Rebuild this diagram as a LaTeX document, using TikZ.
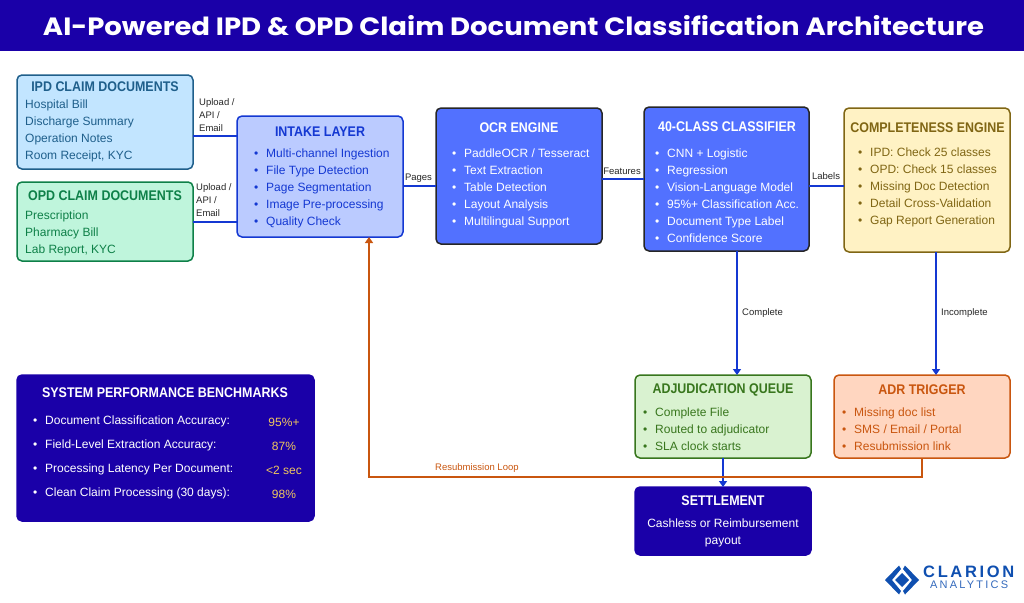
\documentclass[tikz,border=0pt]{standalone}
\usepackage{xcolor}
\usepackage{fontspec}
\setmainfont{Liberation Sans}
\newfontfamily\headfont[FakeStretch=1.1]{Poppins}
\newfontfamily\boxfont[FakeStretch=0.89]{Liberation Sans}
\newfontfamily\logofont[LetterSpace=16]{Liberation Sans}
\newfontfamily\logosubfont[LetterSpace=20]{Liberation Sans}
\usepackage{tikz}
\usetikzlibrary{calc, arrows.meta}

\definecolor{navy}{HTML}{1A00A8}
\definecolor{wireblue}{HTML}{1438D2}
\definecolor{loopred}{HTML}{C9560F}
\definecolor{ipdfill}{HTML}{C2E5FF}
\definecolor{ipdline}{HTML}{1F5F8B}
\definecolor{opdfill}{HTML}{BFF5DC}
\definecolor{opdline}{HTML}{0E8048}
\definecolor{intakefill}{HTML}{BBCBFF}
\definecolor{ocrfill}{HTML}{5271FF}
\definecolor{compfill}{HTML}{FFF2C4}
\definecolor{compline}{HTML}{806614}
\definecolor{adjfill}{HTML}{D9F2D0}
\definecolor{adjline}{HTML}{38761D}
\definecolor{adrfill}{HTML}{FFD6C0}
\definecolor{gold}{HTML}{F0C75E}
\definecolor{logoblue}{HTML}{0F4FB0}

\newcommand{\itm}[2][12pt]{\makebox[#1][l]{\textbullet}#2}

\tikzset{
    box/.style={draw, rounded corners=5pt, line width=1.5pt, inner sep=0pt, outer sep=0pt, anchor=north west},
    head/.style={font=\boxfont\fontsize{14}{16}\selectfont\bfseries, inner sep=0pt},
    body/.style={font=\fontsize{12}{17}\selectfont, align=left, anchor=west, inner sep=0pt},
    tag/.style={font=\fontsize{9.5}{13}\selectfont, align=left, inner sep=0pt, text=black!85},
    wire/.style={wireblue, line width=1.8pt},
    flow/.style={wire, -{Triangle[length=6pt, width=8pt]}},
    resub/.style={loopred, line width=1.6pt},
}

\begin{document}
\begin{tikzpicture}[x=1pt, y=-1pt]
    \useasboundingbox (0, 0) rectangle (1024, 602);

    % title band
    \fill[navy] (0, 0) rectangle (1024, 51);
    \node[text=white, inner sep=0pt, font=\headfont\fontsize{25}{28}\selectfont\bfseries] at (513.5, 26) (title) {AI-Powered IPD \& OPD Claim Document Classification Architecture};

    % document sources
    \node[box, fill=ipdfill, draw=ipdline, minimum width=176pt, minimum height=94pt] at (17, 75) (ipd) {};
    \node[head, text=ipdline] at (105, 87) (ipdhead) {IPD CLAIM DOCUMENTS};
    \node[body, text=ipdline] at (25, 130.5) (ipdlist) {Hospital Bill\\Discharge Summary\\Operation Notes\\Room Receipt, KYC};

    \node[box, fill=opdfill, draw=opdline, minimum width=176pt, minimum height=79pt] at (17, 182) (opd) {};
    \node[head, text=opdline] at (105, 196) (opdhead) {OPD CLAIM DOCUMENTS};
    \node[body, text=opdline] at (25, 233.5) (opdlist) {Prescription\\Pharmacy Bill\\Lab Report, KYC};

    % pipeline
    \node[box, fill=intakefill, draw=wireblue, minimum width=166pt, minimum height=121pt] at (237, 116) (intake) {};
    \node[head, text=wireblue] at (320, 132) (intakehead) {INTAKE LAYER};
    \node[body, text=wireblue] at (254, 188.5) (intakelist) {\itm{Multi-channel Ingestion}\\\itm{File Type Detection}\\\itm{Page Segmentation}\\\itm{Image Pre-processing}\\\itm{Quality Check}};

    \node[box, fill=ocrfill, draw=black!85, minimum width=166pt, minimum height=136pt] at (436, 108) (ocr) {};
    \node[head, text=white] at (519, 128) (ocrhead) {OCR ENGINE};
    \node[body, text=white] at (452, 188.5) (ocrlist) {\itm{PaddleOCR / Tesseract}\\\itm{Text Extraction}\\\itm{Table Detection}\\\itm{Layout Analysis}\\\itm{Multilingual Support}};

    \node[box, fill=ocrfill, draw=black!85, minimum width=165pt, minimum height=144pt] at (644, 107) (classifier) {};
    \node[head, text=white] at (727, 127) (classifierhead) {40-CLASS CLASSIFIER};
    \node[body, text=white] at (655, 196) (classifierlist) {\itm{CNN + Logistic}\\\itm{}Regression\\\itm{Vision-Language Model}\\\itm{95\%+ Classification Acc.}\\\itm{Document Type Label}\\\itm{Confidence Score}};

    \node[box, fill=compfill, draw=compline, minimum width=166pt, minimum height=144pt] at (844, 108) (complete) {};
    \node[head, text=compline] at (927.5, 128) (completehead) {COMPLETENESS ENGINE};
    \node[body, text=compline] at (858, 187.5) (completelist) {\itm{IPD: Check 25 classes}\\\itm{OPD: Check 15 classes}\\\itm{Missing Doc Detection}\\\itm{Detail Cross-Validation}\\\itm{Gap Report Generation}};

    % outcomes
    \node[box, fill=adjfill, draw=adjline, minimum width=176pt, minimum height=83pt] at (635, 375) (adj) {};
    \node[head, text=adjline] at (723, 390) (adjhead) {ADJUDICATION QUEUE};
    \node[body, text=adjline] at (643, 429.5) (adjlist) {\itm{Complete File}\\\itm{Routed to adjudicator}\\\itm{SLA clock starts}};

    \node[box, fill=adrfill, draw=loopred, minimum width=176pt, minimum height=83pt] at (834, 375) (adr) {};
    \node[head, text=loopred] at (922, 390) (adrhead) {ADR TRIGGER};
    \node[body, text=loopred] at (842, 429.5) (adrlist) {\itm{Missing doc list}\\\itm{SMS / Email / Portal}\\\itm{Resubmission link}};

    \node[box, fill=navy, draw=navy, minimum width=176pt, minimum height=68pt] at (635, 487) (settle) {};
    \node[head, text=white] at (723, 501) (settlehead) {SETTLEMENT};
    \node[body, text=white, anchor=center, align=center] at (723, 533) (settlelist) {Cashless or Reimbursement\\payout};

    % benchmarks
    \node[box, fill=navy, draw=navy, minimum width=297pt, minimum height=146pt] at (17, 375) (bench) {};
    \node[head, text=white] at (165, 393) (benchhead) {SYSTEM PERFORMANCE BENCHMARKS};
    \node[body, text=white, font=\fontsize{12}{24}\selectfont] at (33, 457.5) (benchlist) {\itm{Document Classification Accuracy:}\\\itm{Field-Level Extraction Accuracy:}\\\itm{Processing Latency Per Document:}\\\itm{Clean Claim Processing (30 days):}};
    \node[body, text=gold, anchor=center, align=center, font=\fontsize{12}{24}\selectfont] at (284, 458) (benchvals) {95\%+\\87\%\\<2 sec\\98\%};

    % connector ends
    \coordinate (ipdout) at (193, 136);
    \coordinate (opdout) at (193, 222);
    \coordinate (intakeout) at (403, 186);
    \coordinate (ocrout) at (602, 179);
    \coordinate (classout) at (809, 186);
    \coordinate (classdown) at (737, 251);
    \coordinate (compdown) at (936, 252);
    \coordinate (adjdown) at (723, 458);
    \coordinate (adrdown) at (922, 458);
    \coordinate (loopcorner) at (369, 477);

    \draw[wire] (ipdout) -- (ipdout -| intake.west);
    \draw[wire] (opdout) -- (opdout -| intake.west);
    \draw[wire] (intakeout) -- (intakeout -| ocr.west);
    \draw[wire] (ocrout) -- (ocrout -| classifier.west);
    \draw[wire] (classout) -- (classout -| complete.west);
    \draw[flow] (classdown) -- (classdown |- adj.north);
    \draw[flow] (compdown) -- (compdown |- adr.north);
    \draw[flow] (adjdown) -- (adjdown |- settle.north);
    \draw[resub, -{Triangle[length=6pt, width=8pt]}] (adrdown) |- (loopcorner) -- (loopcorner |- intake.south);

    % connector labels
    \node[tag, anchor=west] at (199, 115) (tagipd) {Upload /\\API /\\Email};
    \node[tag, anchor=west] at (196, 200) (tagopd) {Upload /\\API /\\Email};
    \node[tag] at (418.5, 178) (tagpages) {Pages};
    \node[tag] at (622, 171) (tagfeatures) {Features};
    \node[tag] at (826, 176) (taglabels) {Labels};
    \node[tag, anchor=west] at (742, 313) (tagcomplete) {Complete};
    \node[tag, anchor=west] at (941, 313) (tagincomplete) {Incomplete};
    \node[tag, anchor=west, text=loopred] at (435, 468) (tagloop) {Resubmission Loop};

    % logo
    \fill[logoblue] (899, 565.5) -- (885, 580) -- (899, 594.5) -- (901, 591) -- (892, 580) -- (901, 569) -- cycle;
    \fill[logoblue] (905, 565.5) -- (919, 580) -- (905, 594.5) -- (903, 591) -- (912, 580) -- (903, 569) -- cycle;
    \fill[logoblue] (902, 573) -- (909, 580) -- (902, 587) -- (895, 580) -- cycle;
    \node[inner sep=0pt, anchor=west, text=logoblue, font=\logofont\fontsize{16.5}{18}\selectfont\bfseries] at (923, 572) (logotop) {CLARION};
    \node[inner sep=0pt, anchor=west, text=logoblue!85, font=\logosubfont\fontsize{11}{14}\selectfont] at (930, 585) (logobottom) {ANALYTICS};
\end{tikzpicture}
\end{document}
